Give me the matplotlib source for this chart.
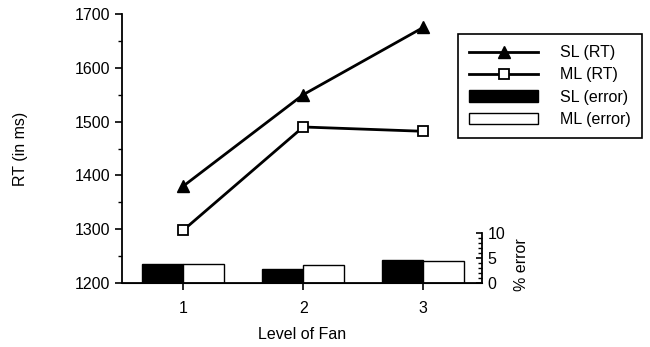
import matplotlib
matplotlib.use("Agg")
import matplotlib.pyplot as plt
import numpy as np
from matplotlib.ticker import MultipleLocator, FixedLocator
from matplotlib.patches import Patch
from matplotlib.lines import Line2D

plt.rcParams['font.family'] = ['Liberation Sans', 'DejaVu Sans']

fan_levels = [1, 2, 3]
sl_rt = [1380, 1550, 1675]
ml_rt = [1298, 1490, 1482]
sl_err = [3.8, 2.8, 4.7]
ml_err = [3.9, 3.6, 4.4]

fig = plt.figure(figsize=(6.5, 3.47), dpi=100)
ax = fig.add_axes([122/650, 64/347, 360/650, 269/347])
ax2 = ax.twinx()

x = np.array(fan_levels)
w = 0.34
ax2.bar(x - w/2, sl_err, width=w, color='black', edgecolor='black', linewidth=1.0)
ax2.bar(x + w/2, ml_err, width=w, color='white', edgecolor='black', linewidth=1.0)
ax2.set_ylim(0, 10*269/50)

ax.plot(x, sl_rt, color='black', lw=2, marker='^', ms=9, mfc='black', mec='black', zorder=5)
ax.plot(x, ml_rt, color='black', lw=2, marker='s', ms=7.5, mfc='white', mec='black', mew=1.3, zorder=5)
ax.set_zorder(ax2.get_zorder() + 1)
ax.patch.set_visible(False)

ax.set_xlim(0.49, 3.49)
ax.set_ylim(1200, 1700)
ax.set_xticks(fan_levels)
ax.set_yticks([1200, 1300, 1400, 1500, 1600, 1700])
ax.yaxis.set_minor_locator(MultipleLocator(50))
for a in (ax, ax2):
    a.spines['top'].set_visible(False)
ax.spines['right'].set_visible(False)
ax2.spines['left'].set_visible(False)
ax2.spines['right'].set_bounds(0, 10)
ax2.set_yticks([0, 5, 10])
ax2.yaxis.set_minor_locator(FixedLocator(list(range(0, 11))))
ax2.tick_params(axis='y', which='major', length=4, width=1.2, labelsize=11.5, direction='in', pad=4)
ax2.tick_params(axis='y', which='minor', length=3, width=1.0, direction='in')
ax2.set_ylabel('% error', fontsize=11.5)
ax2.yaxis.set_label_coords(1.09, 0.07)
ax2.spines['right'].set_linewidth(1.3)

ax.tick_params(axis='both', which='major', length=5, width=1.2, labelsize=11.5, direction='out')
ax.tick_params(axis='y', which='minor', length=3, width=1.0, direction='out')
ax.tick_params(axis='x', pad=8)
for s in ('left', 'bottom'):
    ax.spines[s].set_linewidth(1.3)

ax.set_ylabel('RT (in ms)', fontsize=11.5)
ax.yaxis.set_label_coords(-0.26, 0.5)
ax.set_xlabel('Level of Fan', fontsize=11.5, labelpad=8)

handles = [
    Line2D([], [], color='black', lw=2, marker='^', ms=9, mfc='black'),
    Line2D([], [], color='black', lw=2, marker='s', ms=7.5, mfc='white', mec='black', mew=1.3),
    Patch(facecolor='black', edgecolor='black'),
    Patch(facecolor='white', edgecolor='black'),
]
labels = ['SL (RT)', 'ML (RT)', 'SL (error)', 'ML (error)']
leg = fig.legend(handles, labels, loc='upper left', bbox_to_anchor=(458/650, 1 - 34/347),
                 fontsize=11.5, handlelength=4.3, handletextpad=1.4, fancybox=False,
                 edgecolor='black', framealpha=1, borderpad=0.7, labelspacing=0.45,
                 borderaxespad=0)
leg.get_frame().set_linewidth(1.2)

fig.savefig('out.png', dpi=100)
